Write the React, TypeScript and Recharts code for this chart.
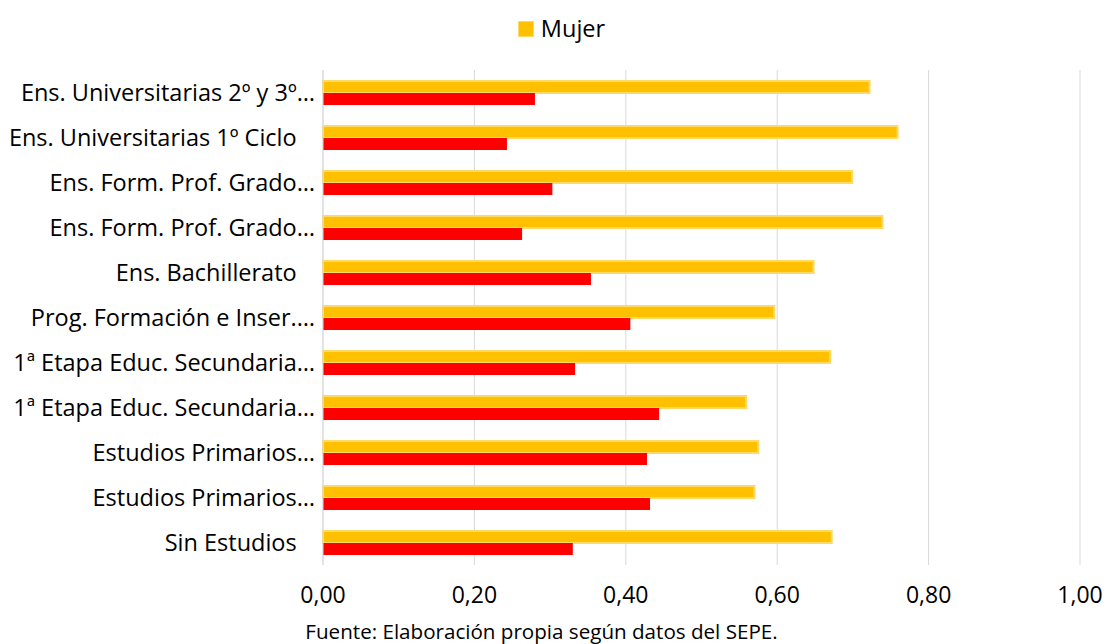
import React from 'react';
import { BarChart, Bar, XAxis, YAxis, CartesianGrid, Legend } from 'recharts';

const FONT = '"Open Sans", Lato, sans-serif';

const categories = [
  'Ens. Universitarias 2º y 3º…',
  'Ens. Universitarias 1º Ciclo   ',
  'Ens. Form. Prof. Grado…',
  'Ens. Form. Prof. Grado…',
  'Ens. Bachillerato   ',
  'Prog. Formación e Inser.…',
  '1ª Etapa Educ. Secundaria…',
  '1ª Etapa Educ. Secundaria…',
  'Estudios Primarios…',
  'Estudios Primarios…',
  'Sin Estudios   ',
];
const mujer = [0.722, 0.759, 0.699, 0.739, 0.648, 0.596, 0.67, 0.559, 0.575, 0.57, 0.672];
const hombre = [0.28, 0.243, 0.303, 0.263, 0.354, 0.406, 0.333, 0.444, 0.428, 0.432, 0.33];
const xTicks = [0, 0.2, 0.4, 0.6, 0.8, 1];
const edgeTicks = [0, 1, 2, 3, 4, 5, 6, 7, 8, 9, 10, 11];
const footer = 'Fuente: Elaboración propia según datos del SEPE.';

const data = categories.map((c, i) => ({ cat: i, mujer: mujer[i], hombre: hombre[i] }));

const CatTick = (props: any) => {
  const { x, y, payload } = props;
  return (
    <text
      x={x}
      y={y}
      dy="0.35em"
      textAnchor="end"
      fill="#000"
      fontSize={23.5}
      fontFamily={FONT}
      style={{ whiteSpace: 'pre' }}
    >
      {categories[payload.value]}
    </text>
  );
};

const LegendContent = () => (
  <div style={{ height: 54, display: 'flex', justifyContent: 'center', paddingLeft: 11 }}>
    <div style={{ display: 'flex', alignItems: 'center', height: 25 }}>
      <span
        style={{
          display: 'inline-block',
          width: 14,
          height: 14,
          background: '#FFC000',
          border: '1.5px solid #FFD966',
          marginRight: 7,
        }}
      />
      <span style={{ fontSize: 23.5, fontFamily: FONT, color: '#000', lineHeight: '25px' }}>Mujer</span>
    </div>
  </div>
);

export default function App() {
  return (
    <div style={{ position: 'absolute', left: 0, top: 0, width: 1112, height: 644, background: '#fff' }}>
      <BarChart
        width={1112}
        height={644}
        data={data}
        layout="vertical"
        margin={{ top: 16, right: 32, bottom: 0, left: 0 }}
        barSize={12}
        barGap={0}
      >
        <CartesianGrid horizontal={false} stroke="#d9d9d9" />
        <Legend
          verticalAlign="top"
          content={<LegendContent />}
          wrapperStyle={{ left: 0, width: 1112 }}
        />
        <XAxis
          type="number"
          domain={[0, 1]}
          ticks={xTicks}
          interval={0}
          tickFormatter={(v: number) => v.toFixed(2).replace('.', ',')}
          axisLine={false}
          tickLine={false}
          tickSize={0}
          tickMargin={22}
          height={79}
          tick={{ fill: '#000', fontSize: 23, fontFamily: FONT }}
        />
        <YAxis
          yAxisId="edge"
          type="number"
          domain={[0, 11]}
          ticks={edgeTicks}
          allowDataOverflow
          width={0}
          axisLine={false}
          tick={false}
          tickLine={{ stroke: '#d9d9d9' }}
          tickSize={8}
          interval={0}
        />
        <YAxis
          type="category"
          dataKey="cat"
          width={323}
          interval={0}
          axisLine={{ stroke: '#d9d9d9' }}
          tickLine={false}
          tick={<CatTick />}
        />
        <Bar dataKey="mujer" name="Mujer" fill="#FFC000" stroke="#FFD966" strokeWidth={2} isAnimationActive={false} />
        <Bar dataKey="hombre" name="Hombre" fill="#FF0000" legendType="none" isAnimationActive={false} />
        <text x={541.5} y={639} textAnchor="middle" fontSize={20.6} fontFamily={FONT} fill="#000">
          {footer}
        </text>
      </BarChart>
    </div>
  );
}
